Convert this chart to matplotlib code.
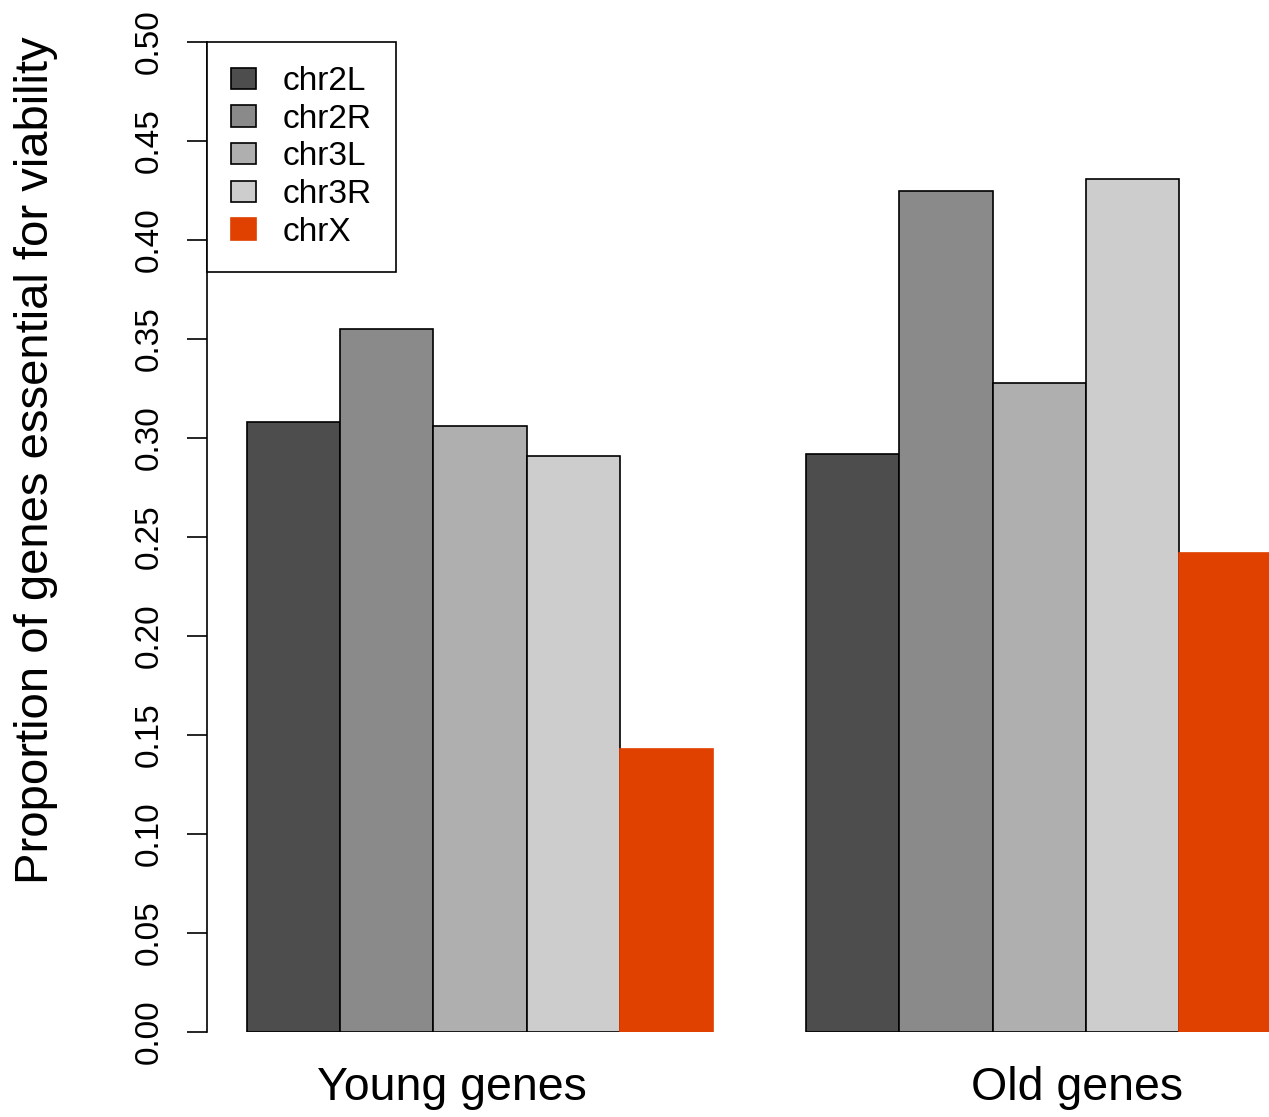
import matplotlib
matplotlib.use("Agg")
import matplotlib.pyplot as plt
from matplotlib.patches import Patch
import numpy as np

plt.rcParams['font.family'] = ['Liberation Sans', 'DejaVu Sans']

groups = ["Young genes", "Old genes"]
chroms = ["chr2L", "chr2R", "chr3L", "chr3R", "chrX"]
young = [0.308, 0.355, 0.306, 0.291, 0.143]
old = [0.292, 0.425, 0.328, 0.431, 0.242]
colors = ["#4D4D4D", "#8A8A8A", "#AFAFAF", "#CDCDCD", "#E04000"]
yticks = [0.00, 0.05, 0.10, 0.15, 0.20, 0.25, 0.30, 0.35, 0.40, 0.45, 0.50]

W, H = 1269, 1117
fig = plt.figure(figsize=(W / 100, H / 100), dpi=100)
ax = fig.add_axes([207 / W, (H - 1032) / H, (W - 207) / W, 990 / H])

values = [young, old]
for g, vals in enumerate(values):
    start = 1 + g * 6
    for i, v in enumerate(vals):
        ec = "black" if chroms[i] != "chrX" else colors[i]
        ax.bar(start + i, v, width=1.0, align="edge", color=colors[i],
               edgecolor=ec, linewidth=1.2, clip_on=True)

ax.set_xlim(0.571, 11.966)
ax.set_ylim(0, 0.5)
for s in ["top", "right", "bottom"]:
    ax.spines[s].set_visible(False)
ax.spines["left"].set_linewidth(1.2)
ax.spines["left"].set_bounds(0, 0.5)
ax.set_xticks([])
ax.set_yticks(yticks)
ax.set_yticklabels([f"{t:.2f}" for t in yticks], rotation=90, va="center",
                   fontsize=24)
ax.tick_params(axis="y", length=14.4, width=1.2, pad=16)

# group labels
label_pos = [3.2, 9.91]
for p, lab in zip(label_pos, groups):
    ax.text(p, -0.0285, lab, ha="center", va="center", fontsize=33.5,
            transform=ax.transData, clip_on=False)

fig.text(36 / W, 1 - 460 / H, "Proportion of genes essential for viability",
         rotation=90, ha="center", va="center", fontsize=34)

handles = [Patch(facecolor=c, edgecolor=("black" if n != "chrX" else c),
                 linewidth=1.2) for c, n in zip(colors, chroms)]
leg = ax.legend(handles, chroms, loc="upper left", bbox_to_anchor=(0, 1),
                borderaxespad=0, fontsize=24, frameon=True, fancybox=False,
                edgecolor="black", framealpha=1, labelspacing=0.2,
                handlelength=0.75, handleheight=0.6, handletextpad=0.8,
                borderpad=0.72)
leg.get_frame().set_linewidth(1.2)

fig.savefig("out.png", dpi=100)
